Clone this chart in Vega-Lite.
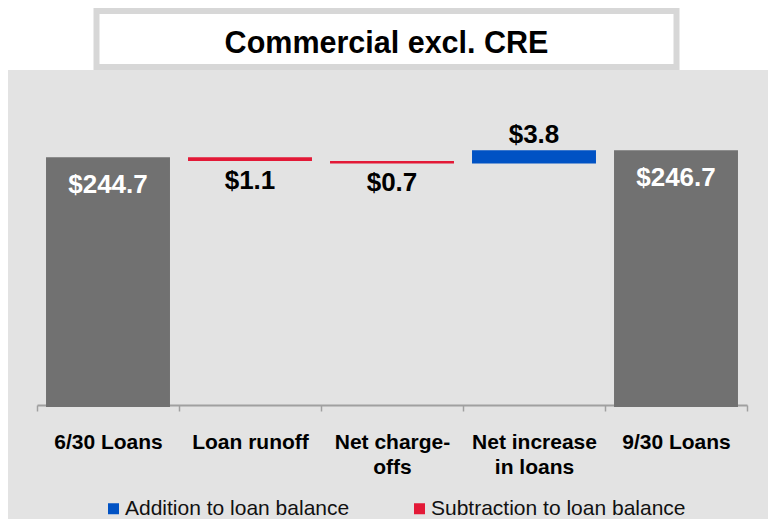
{
  "$schema": "https://vega.github.io/schema/vega-lite/v6.json",
  "background": "white",
  "padding": {"left": 8, "top": 8, "right": 0, "bottom": 0},
  "spacing": 0,
  "center": true,
  "config": {"view": {"stroke": null}, "font": "Liberation Sans"},
  "datasets": {
    "steps": [
      {"step": "6/30 Loans", "start": 0, "end": 244.7, "amount": 244.7, "kind": "Total"},
      {"step": "Loan runoff", "start": 244.7, "end": 243.6, "amount": 1.1, "kind": "Subtraction to loan balance"},
      {"step": "Net charge-offs", "start": 243.6, "end": 242.9, "amount": 0.7, "kind": "Subtraction to loan balance"},
      {"step": "Net increase in loans", "start": 242.9, "end": 246.7, "amount": 3.8, "kind": "Addition to loan balance"},
      {"step": "9/30 Loans", "start": 0, "end": 246.7, "amount": 246.7, "kind": "Total"}
    ]
  },
  "vconcat": [
    {
      "width": 580,
      "height": 56,
      "view": {"fill": "white", "stroke": "#d7d7d7", "strokeWidth": 6},
      "data": {"values": [{"t": "Commercial excl. CRE"}]},
      "mark": {"type": "text", "font": "Liberation Sans", "fontWeight": "bold", "fontSize": 30.5, "baseline": "alphabetic", "dy": 14, "color": "black"},
      "encoding": {"text": {"field": "t"}}
    },
    {
      "width": 760,
      "height": 449,
      "view": {"fill": "#e3e3e3", "stroke": null},
      "data": {"name": "steps"},
      "encoding": {
        "x": {
          "field": "step", "type": "nominal", "sort": null,
          "scale": {"range": [29, 739], "paddingInner": 0, "paddingOuter": 0},
          "axis": {
            "orient": "bottom", "offset": -114, "title": null, "labelAngle": 0,
            "labelFont": "Liberation Sans", "labelFontWeight": "bold", "labelFontSize": 21,
            "labelColor": "black", "labelPadding": 20, "labelLineHeight": 25, "labelLimit": 300,
            "tickBand": "extent", "tickSize": 6, "tickColor": "#a0a0a0", "tickWidth": 1.5,
            "domainColor": "#a0a0a0", "domainWidth": 2,
            "labelExpr": "datum.value == 'Net charge-offs' ? ['Net charge-', 'offs'] : datum.value == 'Net increase in loans' ? ['Net increase', 'in loans'] : datum.value"
          }
        },
        "y": {
          "field": "end", "type": "quantitative",
          "scale": {"domain": [173.3, 269.6], "range": [337, 0], "clamp": true},
          "axis": null
        }
      },
      "layer": [
        {
          "mark": {"type": "bar", "width": {"band": 0.873}},
          "encoding": {
            "y2": {"field": "start"},
            "color": {
              "field": "kind", "type": "nominal",
              "scale": {"domain": ["Addition to loan balance", "Subtraction to loan balance", "Total"], "range": ["#0052c4", "#e31937", "#717171"]},
              "legend": {
                "values": ["Addition to loan balance", "Subtraction to loan balance"],
                "title": null, "orient": "none", "direction": "horizontal",
                "legendX": 95, "legendY": 487, "padding": 0,
                "symbolType": "square", "symbolSize": 121, "symbolStrokeWidth": 0, "symbolOpacity": 1,
                "labelFont": "Liberation Sans", "labelFontSize": 21, "labelColor": "#111111",
                "labelOffset": 1, "labelLimit": 400, "columnPadding": 59
              }
            }
          }
        },
        {
          "transform": [{"filter": "datum.kind == 'Total'"}],
          "mark": {"type": "text", "font": "Liberation Sans", "fontWeight": "bold", "fontSize": 26, "color": "white", "baseline": "alphabetic", "dy": 36},
          "encoding": {"text": {"field": "amount", "type": "quantitative", "format": "$.1f"}}
        },
        {
          "transform": [{"filter": "datum.kind == 'Subtraction to loan balance'"}],
          "mark": {"type": "text", "font": "Liberation Sans", "fontWeight": "bold", "fontSize": 26, "color": "black", "baseline": "alphabetic", "dy": 28},
          "encoding": {"text": {"field": "amount", "type": "quantitative", "format": "$.1f"}}
        },
        {
          "transform": [{"filter": "datum.kind == 'Addition to loan balance'"}],
          "mark": {"type": "text", "font": "Liberation Sans", "fontWeight": "bold", "fontSize": 26, "color": "black", "baseline": "alphabetic", "dy": -7},
          "encoding": {"text": {"field": "amount", "type": "quantitative", "format": "$.1f"}}
        }
      ]
    }
  ]
}
